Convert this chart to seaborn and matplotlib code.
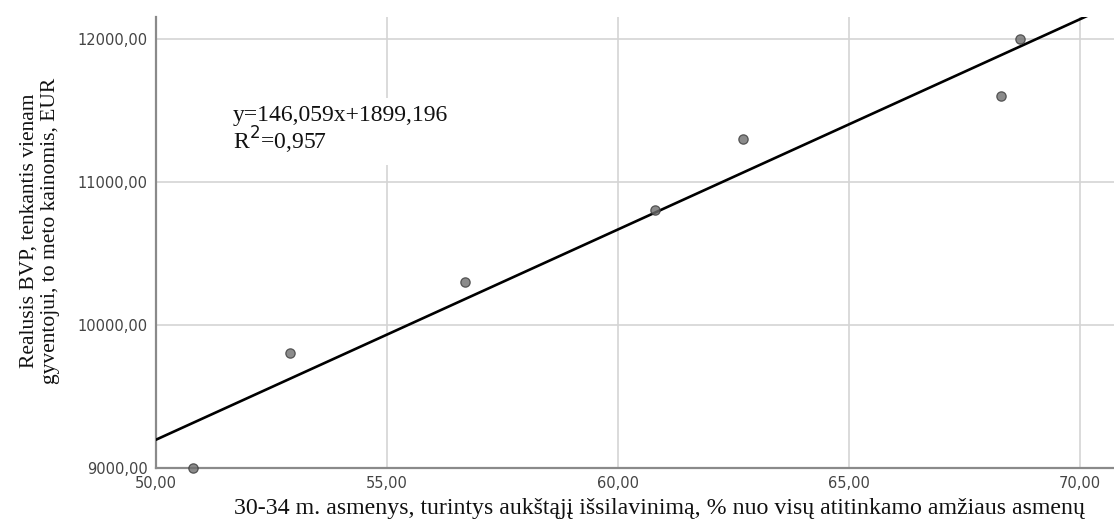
import matplotlib
matplotlib.use("Agg")
import matplotlib.pyplot as plt
import matplotlib.ticker as mticker
import pandas as pd
import seaborn as sns

# 30-34 m. asmenys su aukstuoju issilavinimu (%) ir realusis BVP vienam gyventojui
education_pct = [50.8, 52.9, 56.7, 60.8, 62.7, 68.3, 68.7]
gdp_per_capita = [9000, 9800, 10300, 10800, 11300, 11600, 12000]
x_ticks = [50, 55, 60, 65, 70]
y_ticks = [9000, 10000, 11000, 12000]
equation_text = "y=146,059x+1899,196\nR$^2$=0,957"

df = pd.DataFrame({"x": education_pct, "y": gdp_per_capita})

sns.set_style("whitegrid")
plt.rcParams["font.family"] = ["Liberation Serif", "DejaVu Serif"]

fig = plt.figure(figsize=(11.14, 5.24), dpi=100)
ax = fig.add_axes([0.140, 0.107, 0.860, 0.861])
ax.set_xlim(50, 70.74)
ax.set_ylim(9000, 12154)

sns.regplot(data=df, x="x", y="y", ax=ax, ci=None, truncate=False,
            scatter_kws=dict(s=45, color="#6e6e6e", edgecolor="#3a3a3a",
                             linewidths=0.9, zorder=4, clip_on=False),
            line_kws=dict(color="black", linewidth=1.9, zorder=3))

ax.set_xticks(x_ticks)
ax.set_yticks(y_ticks)
fmt = mticker.FuncFormatter(lambda v, p: f"{v:.2f}".replace(".", ","))
ax.xaxis.set_major_formatter(fmt)
ax.yaxis.set_major_formatter(fmt)
for lab in ax.get_xticklabels() + ax.get_yticklabels():
    lab.set_family("DejaVu Sans")
    lab.set_fontsize(10.5)
    lab.set_color("#444444")
ax.tick_params(axis="x", length=0, pad=6)
ax.tick_params(axis="y", length=0, pad=6)

ax.grid(True, color="#d4d4d4", linewidth=1.2)
ax.set_axisbelow(True)
for side in ["top", "right"]:
    ax.spines[side].set_visible(False)
for side in ["left", "bottom"]:
    ax.spines[side].set_color("#8a8a8a")
    ax.spines[side].set_linewidth(1.6)

ax.set_xlabel("30-34 m. asmenys, turintys aukštąjį išsilavinimą, % nuo visų atitinkamo amžiaus asmenų",
              fontsize=17.2, color="#111111")
ax.xaxis.set_label_coords(0.526, -0.067)
ax.set_ylabel("Realusis BVP, tenkantis vienam\ngyventojui, to meto kainomis, EUR",
              fontsize=15.5, color="#111111", linespacing=1.2)
ax.yaxis.set_label_coords(-0.100, 0.525)

ax.text(51.67, 11535, equation_text, fontsize=17, va="top", ha="left",
        color="#111111", linespacing=0.95, zorder=5,
        bbox=dict(boxstyle="square,pad=0.35", fc="white", ec="none"))

fig.savefig("out.png", dpi=100)
